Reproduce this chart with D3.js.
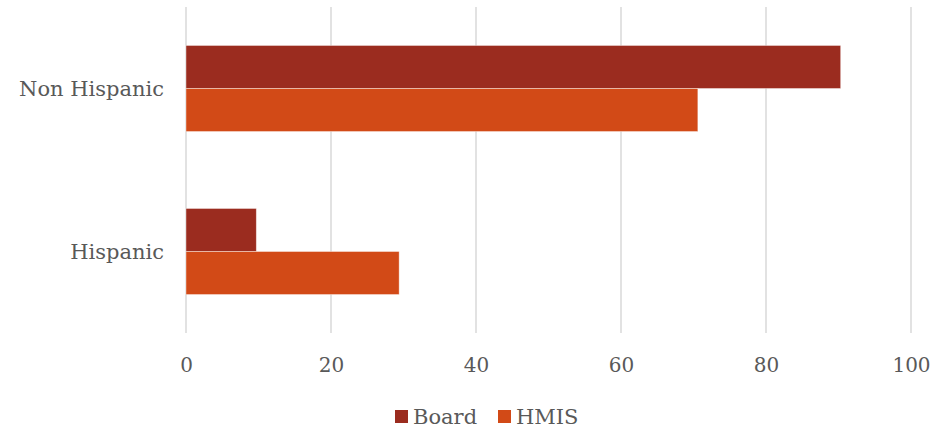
<!DOCTYPE html>
<html>
<head>
<meta charset="utf-8">
<script src="https://cdn.jsdelivr.net/npm/d3@7"></script>
<style>
  html, body { margin: 0; padding: 0; background: #fff; }
  svg text { font-family: "DejaVu Serif", serif; fill: #595959; }
</style>
</head>
<body>
<svg id="chart" width="935" height="431"></svg>
<script>
// Ethnicity share (%) for board members vs. HMIS clients
const categories = ["Non Hispanic", "Hispanic"];
const series = ["Board", "HMIS"];
const boardValues = [90.3, 9.7];
const hmisValues = [70.6, 29.4];
const tickValues = [0, 20, 40, 60, 80, 100];
const colors = ["#9B2C1F", "#D24A17"];

const rows = categories.map((c, i) => ({
  category: c,
  values: [
    { key: series[0], value: boardValues[i] },
    { key: series[1], value: hmisValues[i] }
  ]
}));

const svg = d3.select("#chart");
const margin = { top: 7, right: 24, bottom: 98, left: 186 };
const W = 935, H = 431;

const x = d3.scaleLinear().domain([0, 100]).range([margin.left, W - margin.right]);
const y = d3.scaleBand().domain(categories)
  .range([margin.top, H - margin.bottom])
  .paddingInner(0.472).paddingOuter(0.236);
const ySub = d3.scaleBand().domain(series).range([0, y.bandwidth()]);
const color = d3.scaleOrdinal().domain(series).range(colors);

// vertical gridlines
svg.append("g")
  .selectAll("line")
  .data(tickValues)
  .join("line")
  .attr("x1", d => x(d)).attr("x2", d => x(d))
  .attr("y1", margin.top).attr("y2", H - margin.bottom)
  .attr("stroke", "#d9d9d9")
  .attr("stroke-width", 1.5);

// bars
svg.append("g")
  .selectAll("g")
  .data(rows)
  .join("g")
  .attr("transform", d => `translate(0,${y(d.category)})`)
  .selectAll("rect")
  .data(d => d.values)
  .join("rect")
  .attr("x", x(0))
  .attr("y", d => ySub(d.key))
  .attr("width", d => x(d.value) - x(0))
  .attr("height", ySub.bandwidth())
  .attr("fill", d => color(d.key))
  .attr("stroke", "#ffffff")
  .attr("stroke-opacity", 0.5)
  .attr("stroke-width", 0.8);

// x axis labels
const xAxis = d3.axisBottom(x).tickValues(tickValues).tickSize(0).tickPadding(0);
const gx = svg.append("g")
  .attr("transform", `translate(0,${H - margin.bottom})`)
  .call(xAxis);
gx.select(".domain").remove();
gx.selectAll("text")
  .attr("dy", null)
  .attr("y", 39)
  .style("font-size", "20px")
  .style("font-family", "'DejaVu Serif', serif")
  .attr("fill", "#595959");

// category labels
const yAxis = d3.axisLeft(y).tickSize(0).tickPadding(22);
const gy = svg.append("g")
  .attr("transform", `translate(${margin.left},0)`)
  .call(yAxis);
gy.select(".domain").remove();
gy.selectAll("text")
  .attr("dy", "0.36em")
  .style("font-size", "21px")
  .style("font-family", "'DejaVu Serif', serif")
  .attr("fill", "#595959");

// legend
const legend = svg.append("g").attr("transform", "translate(395,410)");
const legendX = [0, 103];
series.forEach((s, i) => {
  const g = legend.append("g").attr("transform", `translate(${legendX[i]},0)`);
  g.append("rect").attr("width", 13).attr("height", 13).attr("fill", color(s));
  g.append("text").attr("x", 18).attr("y", 14)
    .style("font-size", "21px")
    .text(s);
});
</script>
</body>
</html>
